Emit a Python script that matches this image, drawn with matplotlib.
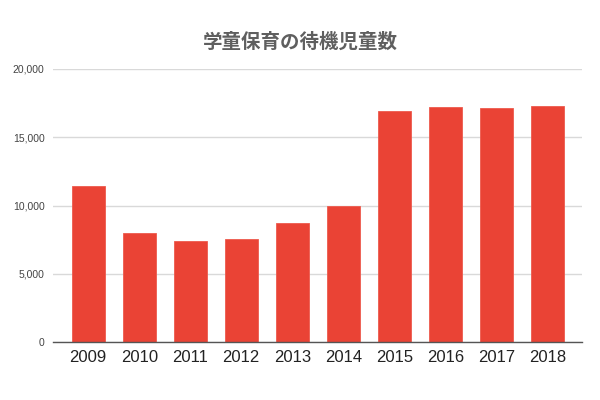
import matplotlib
matplotlib.use("Agg")
import matplotlib.pyplot as plt
from matplotlib.ticker import FuncFormatter

years = ["2009", "2010", "2011", "2012", "2013", "2014", "2015", "2016", "2017", "2018"]
waiting = [11438, 8021, 7408, 7521, 8689, 9945, 16941, 17203, 17170, 17279]
y_ticks = [0, 5000, 10000, 15000, 20000]

plt.rcParams["font.family"] = ["Liberation Sans", "Noto Sans CJK JP", "DejaVu Sans"]

fig = plt.figure(figsize=(6, 4), dpi=100)
ax = fig.add_axes([53 / 600, 1 - 342 / 400, 529 / 600, 273 / 400])

x = range(len(years))
ax.bar(x, waiting, width=0.65, color="#ea4335", edgecolor="#ee5a4d", linewidth=0.6, zorder=3)

ax.set_xlim(-0.69, len(years) - 1 + 0.68)
ax.set_ylim(0, 20000)
ax.set_yticks(y_ticks)
ax.yaxis.set_major_formatter(FuncFormatter(lambda v, p: f"{int(v):,}"))
ax.set_xticks(list(x))
ax.set_xticklabels(years)

ax.grid(axis="y", color="#d9d9d9", linewidth=1, zorder=0)
for s in ["top", "right", "left"]:
    ax.spines[s].set_visible(False)
ax.spines["bottom"].set_color("#555555")
ax.spines["bottom"].set_linewidth(1)
ax.spines["bottom"].set_zorder(4)

ax.tick_params(axis="y", length=0, pad=6, labelsize=7.5, labelcolor="#444444")
ax.tick_params(axis="x", length=0, pad=6, labelsize=12, labelcolor="#222222")

fig.text(0.5, 1 - 42 / 400, "学童保育の待機児童数", ha="center", va="center",
         fontsize=14, fontweight="bold", color="#5f5f5f",
         family=["Noto Sans CJK JP", "DejaVu Sans"])

fig.savefig("out.png", dpi=100)
